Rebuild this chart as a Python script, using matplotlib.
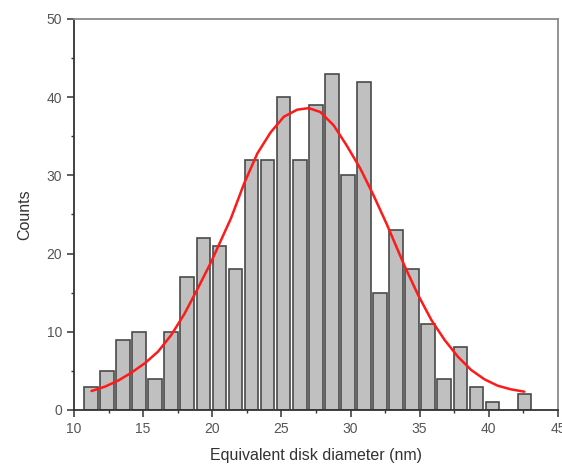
import numpy as np
import matplotlib
matplotlib.use("Agg")
import matplotlib.pyplot as plt
from matplotlib.ticker import MultipleLocator

plt.rcParams['font.family'] = ['Liberation Sans', 'DejaVu Sans']

# histogram bins (centres, nm) and counts
bin_centers = [11.22, 12.38, 13.54, 14.71, 15.87, 17.03, 18.19, 19.35, 20.52,
               21.68, 22.84, 24.00, 25.16, 26.33, 27.49, 28.65, 29.81, 30.97,
               32.14, 33.30, 34.46, 35.62, 36.78, 37.95, 39.11, 40.27, 41.43,
               42.59]
counts = [3, 5, 9, 10, 4, 10, 17, 22, 21, 18, 32, 32, 40, 32, 39, 43, 30, 42,
          15, 23, 18, 11, 4, 8, 3, 1, 0, 2]

# fitted curve, points
fit_x = [11.27, 12.23, 13.19, 14.15, 15.11, 16.07, 17.03, 17.99, 18.94, 19.91,
         20.86, 21.35, 22.30, 23.26, 24.22, 25.18, 26.14, 26.98, 27.82, 28.78,
         29.73, 30.70, 31.65, 32.61, 33.94, 34.89, 35.85, 36.81, 37.77, 38.73,
         39.69, 40.65, 41.60, 42.57]
fit_y = [2.43, 2.98, 3.75, 4.77, 5.96, 7.45, 9.58, 12.3, 15.5, 18.9,
         22.6, 24.5, 28.95, 32.8, 35.5, 37.5, 38.4, 38.6, 38.1, 36.4,
         33.8, 30.9, 27.5, 23.8, 18.3, 14.7, 11.5, 8.94, 6.81, 5.11,
         3.92, 3.10, 2.64, 2.34]

fig = plt.figure(figsize=(5.62, 4.72), dpi=100)
ax = fig.add_axes([0.1317, 0.1314, 0.861, 0.8284])

xs = [x for x, c in zip(bin_centers, counts) if c > 0]
cs = [c for c in counts if c > 0]
ax.bar(xs, cs, width=0.98, color='#c0c0c0', edgecolor='#4a4a4a',
       linewidth=1.2, zorder=2)
ax.plot(fit_x, fit_y, color='#ff1a1a', linewidth=1.8, zorder=3,
        solid_joinstyle='round', solid_capstyle='round')

ax.set_xlim(10, 45)
ax.set_ylim(0, 50)
ax.xaxis.set_major_locator(MultipleLocator(5))
ax.xaxis.set_minor_locator(MultipleLocator(2.5))
ax.yaxis.set_major_locator(MultipleLocator(10))
ax.yaxis.set_minor_locator(MultipleLocator(5))
ax.tick_params(which='major', direction='out', length=5, width=1.1,
               color='#333333', labelsize=10, labelcolor='#555555')
ax.tick_params(which='minor', direction='out', length=2.5, width=1.0,
               color='#333333')
ax.tick_params(top=False, right=False)

for s in ['left', 'bottom']:
    ax.spines[s].set_color('#333333')
    ax.spines[s].set_linewidth(1.3)
for s in ['top', 'right']:
    ax.spines[s].set_color('#8a8a8a')
    ax.spines[s].set_linewidth(1.3)

ax.set_xlabel('Equivalent disk diameter (nm)', fontsize=11.5, color='#333333',
              labelpad=9)
ax.set_ylabel('Counts', fontsize=11.5, color='#333333', labelpad=10)

fig.savefig('out.png', dpi=100)
